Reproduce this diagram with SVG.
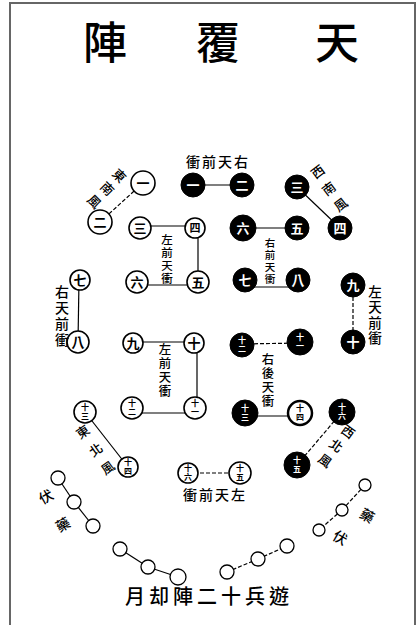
<svg xmlns="http://www.w3.org/2000/svg" width="417" height="625" viewBox="0 0 417 625">
<style>
text{font-family:"Liberation Sans","Noto Sans CJK TC","Noto Sans CJK SC",sans-serif;text-anchor:middle;dominant-baseline:central;fill:#000}
.title{font-family:"Noto Sans CJK TC",sans-serif;font-size:44px;font-weight:500}
.lbl{font-size:13px;font-weight:500}
.wn circle{fill:#fff;stroke:#000;stroke-width:1.6}
.bn circle{fill:#000;stroke:#000;stroke-width:1}
.wn text{font-size:13px;font-weight:700}
.bn text{font-size:13px;font-weight:700;fill:#fff}
.wn text.sm,.bn text.sm{font-size:8px}
.dot circle{fill:#fff;stroke:#000;stroke-width:1.3}
.c line{stroke:#000;stroke-width:1.2}
.d{stroke-dasharray:4 2}
.bottom{font-size:20px;font-weight:500;letter-spacing:4px}
</style>
<rect x="10" y="3" width="405" height="630" fill="#fff" stroke="#666" stroke-width="2"/>
<g id="title">
<text class="title" x="105" y="40">陣</text>
<text class="title" x="218" y="40">覆</text>
<text class="title" x="337" y="40">天</text>
</g>
<g id="connectors" class="c">
<line class="d" x1="143" y1="183" x2="100" y2="222"/>
<line x1="193" y1="185" x2="242" y2="185"/>
<line x1="297" y1="187" x2="340" y2="228"/>
<line x1="140" y1="226" x2="195" y2="226"/>
<line x1="198" y1="228" x2="198" y2="284"/>
<line x1="137" y1="285" x2="198" y2="285"/>
<line x1="243" y1="228" x2="297" y2="228"/>
<line x1="245" y1="287" x2="298" y2="287"/>
<line x1="79" y1="280" x2="78" y2="342"/>
<line class="d" x1="353" y1="285" x2="353" y2="342"/>
<line x1="133" y1="342" x2="194" y2="342"/>
<line x1="197" y1="342" x2="197" y2="410"/>
<line x1="132" y1="413" x2="195" y2="413"/>
<line class="d" x1="242" y1="344" x2="300" y2="343"/>
<line x1="245" y1="416" x2="300" y2="416"/>
<line class="d" x1="342" y1="412" x2="297" y2="465"/>
<line x1="85" y1="412" x2="128" y2="467"/>
<line class="d" x1="188" y1="473" x2="240" y2="473"/>
<line x1="58" y1="478" x2="74" y2="502"/>
<line x1="74" y1="502" x2="93" y2="526"/>
<line x1="120" y1="549" x2="148" y2="567"/>
<line x1="148" y1="567" x2="178" y2="577"/>
<line class="d" x1="227" y1="572" x2="258" y2="559"/>
<line class="d" x1="258" y1="559" x2="287" y2="546"/>
<line class="d" x1="365" y1="485" x2="342" y2="510"/>
<line class="d" x1="342" y1="510" x2="319" y2="530"/>
</g>
<g id="w1" class="wn"><circle cx="143" cy="183" r="12"/><text x="143" y="183">一</text></g>
<g id="w2" class="wn"><circle cx="100" cy="222" r="12"/><text x="100" y="222">二</text></g>
<g id="w3" class="wn"><circle cx="140" cy="228" r="11"/><text x="140" y="228">三</text></g>
<g id="w4" class="wn"><circle cx="195" cy="228" r="10"/><text x="195" y="228" style="font-size:11px">四</text></g>
<g id="w5" class="wn"><circle cx="198" cy="282" r="11"/><text x="198" y="282">五</text></g>
<g id="w6" class="wn"><circle cx="137" cy="282" r="11"/><text x="137" y="282">六</text></g>
<g id="w7" class="wn"><circle cx="80" cy="280" r="10"/><text x="80" y="280">七</text></g>
<g id="w8" class="wn"><circle cx="78" cy="342" r="11"/><text x="78" y="342">八</text></g>
<g id="w9" class="wn"><circle cx="133" cy="343" r="10"/><text x="133" y="343">九</text></g>
<g id="w10" class="wn"><circle cx="194" cy="343" r="10"/><text x="194" y="343">十</text></g>
<g id="w11" class="wn"><circle cx="195" cy="408" r="11"/><text class="sm" x="195" y="403.5">十</text><text class="sm" x="195" y="412.5">一</text></g>
<g id="w12" class="wn"><circle cx="132" cy="408" r="11"/><text class="sm" x="132" y="403.5">十</text><text class="sm" x="132" y="412.5">二</text></g>
<g id="w13" class="wn"><circle cx="85" cy="412" r="11"/><text class="sm" x="85" y="407.5">十</text><text class="sm" x="85" y="416.5">三</text></g>
<g id="w14" class="wn"><circle cx="128" cy="467" r="10"/><text class="sm" x="128" y="462.5">十</text><text class="sm" x="128" y="471.5">四</text></g>
<g id="w15" class="wn"><circle cx="240" cy="473" r="11"/><text class="sm" x="240" y="468.5">十</text><text class="sm" x="240" y="477.5">五</text></g>
<g id="w16" class="wn"><circle cx="188" cy="473" r="10"/><text class="sm" x="188" y="468.5">十</text><text class="sm" x="188" y="477.5">六</text></g>
<g id="b1" class="bn"><circle cx="193" cy="185" r="12"/><text x="193" y="185">一</text></g>
<g id="b2" class="bn"><circle cx="242" cy="185" r="12"/><text x="242" y="185">二</text></g>
<g id="b3" class="bn"><circle cx="297" cy="187" r="12"/><text x="297" y="187">三</text></g>
<g id="b4" class="bn"><circle cx="340" cy="228" r="12"/><text x="340" y="228">四</text></g>
<g id="b5" class="bn"><circle cx="297" cy="228" r="12"/><text x="297" y="228">五</text></g>
<g id="b6" class="bn"><circle cx="243" cy="228" r="13"/><text x="243" y="228">六</text></g>
<g id="b7" class="bn"><circle cx="245" cy="280" r="12"/><text x="245" y="280">七</text></g>
<g id="b8" class="bn"><circle cx="298" cy="280" r="12"/><text x="298" y="280">八</text></g>
<g id="b9" class="bn"><circle cx="353" cy="285" r="12"/><text x="353" y="285">九</text></g>
<g id="b10" class="bn"><circle cx="353" cy="342" r="12"/><text x="353" y="342">十</text></g>
<g id="b11" class="bn"><circle cx="300" cy="342" r="13"/><text class="sm" x="300" y="337.5">十</text><text class="sm" x="300" y="346.5">一</text></g>
<g id="b12" class="bn"><circle cx="242" cy="345" r="12"/><text class="sm" x="242" y="340.5">十</text><text class="sm" x="242" y="349.5">二</text></g>
<g id="b13" class="bn"><circle cx="245" cy="413" r="13"/><text class="sm" x="245" y="408.5">十</text><text class="sm" x="245" y="417.5">三</text></g>
<g id="w14b" class="wn"><circle cx="300" cy="413" r="12" style="stroke-width:2.5"/><text class="sm" x="300" y="408.5">十</text><text class="sm" x="300" y="417.5">四</text></g>
<g id="b15" class="bn"><circle cx="297" cy="465" r="13"/><text class="sm" x="297" y="460.5">十</text><text class="sm" x="297" y="469.5">五</text></g>
<g id="b16" class="bn"><circle cx="342" cy="412" r="13"/><text class="sm" x="342" y="407.5">十</text><text class="sm" x="342" y="416.5">六</text></g>
<g id="dots" class="dot">
<circle cx="58" cy="478" r="7"/><circle cx="74" cy="502" r="7"/><circle cx="93" cy="526" r="7"/>
<circle cx="120" cy="549" r="7"/><circle cx="148" cy="567" r="7"/><circle cx="178" cy="577" r="8"/>
<circle cx="227" cy="572" r="7"/><circle cx="258" cy="559" r="7"/><circle cx="287" cy="546" r="7"/>
<circle cx="365" cy="485" r="6"/><circle cx="342" cy="510" r="6"/><circle cx="319" cy="530" r="6"/>
</g>
<g id="labels">
<text class="lbl" x="218" y="162" style="font-size:14px;letter-spacing:2px">衝前天右</text>
<text class="lbl" x="215" y="495" style="font-size:14px;letter-spacing:2px">衝前天左</text>
<text class="lbl" x="119" y="176" transform="rotate(45 119 176)">東</text>
<text class="lbl" x="107" y="189" transform="rotate(45 107 189)">南</text>
<text class="lbl" x="94" y="202" transform="rotate(45 94 202)">風</text>
<text class="lbl" x="318" y="172" transform="rotate(-37 318 172)">西</text>
<text class="lbl" x="329" y="189" transform="rotate(-37 329 189)">南</text>
<text class="lbl" x="341" y="205" transform="rotate(-37 341 205)">風</text>
<text class="lbl" x="83" y="432" transform="rotate(-35 83 432)">東</text>
<text class="lbl" x="96" y="450" transform="rotate(-35 96 450)">北</text>
<text class="lbl" x="108" y="468" transform="rotate(-35 108 468)">風</text>
<text class="lbl" x="348" y="432" transform="rotate(36 348 432)">西</text>
<text class="lbl" x="336" y="446" transform="rotate(36 336 446)">北</text>
<text class="lbl" x="325" y="461" transform="rotate(36 325 461)">風</text>
<text class="lbl" x="46" y="497" style="font-size:14px" transform="rotate(-30 46 497)">伏</text>
<text class="lbl" x="63" y="525" style="font-size:14px" transform="rotate(-30 63 525)">藥</text>
<text class="lbl" x="340" y="538" style="font-size:14px" transform="rotate(30 340 538)">伏</text>
<text class="lbl" x="367" y="516" style="font-size:14px" transform="rotate(30 367 516)">藥</text>
<g style="font-size:11.5px"><text class="lbl" x="167" y="240" style="font-size:11.5px">左</text><text class="lbl" x="167" y="253" style="font-size:11.5px">前</text><text class="lbl" x="167" y="266" style="font-size:11.5px">天</text><text class="lbl" x="167" y="279" style="font-size:11.5px">衝</text></g>
<text class="lbl" x="270" y="243" style="font-size:10.5px">右</text><text class="lbl" x="270" y="255" style="font-size:10.5px">前</text><text class="lbl" x="270" y="267" style="font-size:10.5px">天</text><text class="lbl" x="270" y="279" style="font-size:10.5px">衝</text>
<text class="lbl" x="62" y="292" style="font-size:14px">右</text><text class="lbl" x="62" y="308" style="font-size:14px">天</text><text class="lbl" x="62" y="324" style="font-size:14px">前</text><text class="lbl" x="62" y="340" style="font-size:14px">衝</text>
<text class="lbl" x="375" y="292" style="font-size:13.5px">左</text><text class="lbl" x="375" y="307.5" style="font-size:13.5px">天</text><text class="lbl" x="375" y="323" style="font-size:13.5px">前</text><text class="lbl" x="375" y="338.5" style="font-size:13.5px">衝</text>
<text class="lbl" x="165" y="350" style="font-size:12.4px">左</text><text class="lbl" x="165" y="364" style="font-size:12.4px">前</text><text class="lbl" x="165" y="378" style="font-size:12.4px">天</text><text class="lbl" x="165" y="392" style="font-size:12.4px">衝</text>
<text class="lbl" x="268" y="360" style="font-size:12.4px">右</text><text class="lbl" x="268" y="374" style="font-size:12.4px">後</text><text class="lbl" x="268" y="388" style="font-size:12.4px">天</text><text class="lbl" x="268" y="402" style="font-size:12.4px">衝</text>
<text class="bottom" x="209" y="597">月却陣二十兵遊</text>
</g>
</svg>
